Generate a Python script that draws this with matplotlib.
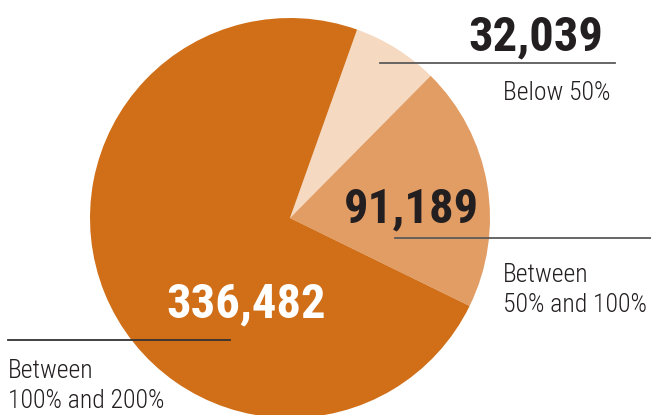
import matplotlib
matplotlib.use("Agg")
import matplotlib.pyplot as plt
from matplotlib.lines import Line2D

plt.rcParams['font.family'] = ['Roboto Condensed', 'Archivo Narrow', 'Barlow Condensed', 'DejaVu Sans']

# household counts by share of income
categories = ['Below 50%', 'Between\n50% and 100%', 'Between\n100% and 200%']
values = [32039, 91189, 336482]
colors = ['#F5D9C1', '#E29D65', '#D06F18']

W, H = 651, 415
fig = plt.figure(figsize=(W / 100, H / 100), dpi=100)

def fx(x):
    return x / W

def fy(y):
    return 1 - y / H

# pie occupies a 400px square centred at (290, 218)
ax = fig.add_axes([fx(90), fy(418), 400 / W, 400 / H])
ax.pie(values, colors=colors, startangle=70.4, counterclock=False,
       radius=1, wedgeprops=dict(linewidth=0))
ax.set_xlim(-1, 1)
ax.set_ylim(-1, 1)
ax.set_aspect('auto')
ax.axis('off')

dark = '#231F20'

# leader lines
for (x0, x1, y, c) in [(380, 615, 63, '#5a5a5a'),
                       (395, 651, 238, '#5a5a5a'),
                       (8, 230, 340, '#333333')]:
    fig.add_artist(Line2D([fx(x0), fx(x1)], [fy(y), fy(y)],
                          color=c, linewidth=1.3, transform=fig.transFigure))

num_kw = dict(fontsize=35, fontweight='bold', va='baseline')
lab_kw = dict(fontsize=18.5, fontweight='light', color=dark, va='baseline',
              linespacing=1.3)

fig.text(fx(603), fy(50), f'{values[0]:,}', ha='right', color=dark, **num_kw)
fig.text(fx(503), fy(100), categories[0], ha='left', **lab_kw)

fig.text(fx(344), fy(222), f'{values[1]:,}', ha='left', color=dark, **num_kw)
fig.text(fx(503), fy(312), categories[1], ha='left', **lab_kw)

fig.text(fx(166), fy(317), f'{values[2]:,}', ha='left', color='white', **num_kw)
fig.text(fx(8), fy(408), categories[2], ha='left', **lab_kw)

fig.savefig('out.png', dpi=100)
